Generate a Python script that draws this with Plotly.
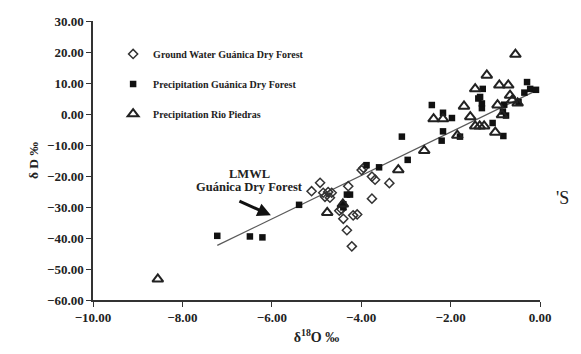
import plotly.graph_objects as go

# Ground Water Guánica Dry Forest (diamonds)
gw_x = [-5.11, -4.92, -4.85, -4.74, -4.66, -4.81, -4.70, -4.29, -4.49, -4.44, -4.40,
        -4.18, -4.09, -4.32, -4.21, -3.99, -3.95, -3.76, -3.69, -3.37, -3.76]
gw_y = [-24.9, -22.2, -25.4, -25.2, -25.4, -26.7, -27.0, -23.3, -31.2, -30.7, -33.8,
        -32.7, -32.4, -37.5, -42.7, -18.1, -17.4, -20.2, -21.2, -22.3, -27.3]

# Precipitation Guánica Dry Forest (filled squares)
pg_x = [-7.22, -6.49, -6.21, -5.39, -4.40, -4.40, -4.32, -4.25, -3.88, -3.60, -3.09,
        -2.96, -2.42, -2.17, -1.97, -2.17, -2.20, -1.79, -1.38, -1.34, -1.30, -1.30,
        -1.28, -1.06, -0.82, -0.83, -0.76, -0.48, -0.29, -0.22, -0.09, -0.35, -0.80]
pg_y = [-39.3, -39.5, -39.8, -29.3, -29.1, -30.1, -26.0, -26.0, -16.5, -17.2, -7.3,
        -14.8, 2.9, 0.4, -1.3, -5.6, -8.6, -7.3, 5.0, 5.5, 1.9, 3.4,
        8.1, -2.9, -7.1, 0.8, -0.5, 3.9, 10.3, 8.1, 7.8, 6.9, 3.0]

# Precipitation Rio Piedras (open triangles)
rp_x = [-8.55, -4.76, -4.41, -3.17, -2.59, -2.38, -2.17, -1.85, -1.70, -1.56, -1.45,
        -1.45, -1.35, -1.25, -1.19, -1.00, -0.95, -0.91, -0.85, -0.71, -0.67, -0.62,
        -0.55, -0.50]
rp_y = [-53.3, -31.8, -29.1, -18.0, -11.8, -1.6, -1.6, -6.9, 2.5, -0.9, 8.1,
        -3.9, -3.9, -3.9, 12.5, -5.9, 2.9, 9.3, -0.3, 9.3, 6.0, 4.5,
        19.2, 3.5]

# LMWL Guánica Dry Forest (drawn line end points)
lmwl_x = [-7.22, -0.12]
lmwl_y = [-42.4, 7.3]

serif = "Liberation Serif, Times New Roman, serif"

fig = go.Figure()
fig.add_trace(go.Scatter(
    x=lmwl_x, y=lmwl_y, mode="lines", showlegend=False,
    line=dict(color="#5a5a5a", width=1.3), hoverinfo="skip"))
fig.add_trace(go.Scatter(
    x=gw_x, y=gw_y, mode="markers", name="Ground Water Guánica Dry Forest",
    legendgroup="a",
    marker=dict(symbol="diamond-open", size=7, color="#333333", line=dict(width=1.5))))
fig.add_trace(go.Scatter(
    x=pg_x, y=pg_y, mode="markers", name="Precipitation Guánica Dry Forest",
    legendgroup="b",
    marker=dict(symbol="square", size=6.5, color="#111111")))
fig.add_trace(go.Scatter(
    x=rp_x, y=rp_y, mode="markers", name="Precipitation Rio Piedras",
    legendgroup="c",
    marker=dict(symbol="triangle-up-open", size=9.5, color="#222222", line=dict(width=2))))

# arrow tip just above the LMWL
arrow_x = -6.02
arrow_y = lmwl_y[0] + (arrow_x - lmwl_x[0]) * (lmwl_y[1] - lmwl_y[0]) / (lmwl_x[1] - lmwl_x[0]) + 1.3

fig.add_annotation(x=arrow_x, y=arrow_y, text="", showarrow=True,
                   ax=-33, ay=-15, arrowhead=2, arrowsize=0.9, arrowwidth=3,
                   arrowcolor="#111111", standoff=0)
fig.add_annotation(x=-6.5, y=-19.2, text="<b>LMWL</b>", showarrow=False,
                   font=dict(family=serif, size=12.5, color="#222222"))
fig.add_annotation(x=-6.5, y=-23.4, text="<b>Guánica Dry Forest</b>", showarrow=False,
                   font=dict(family=serif, size=12.5, color="#222222"))
# stray text at the right edge of the scanned figure
fig.add_annotation(xref="paper", yref="paper", x=1.032, y=0.367, text="'S",
                   showarrow=False, xanchor="left",
                   font=dict(family=serif, size=18, color="#222222"))

axis_common = dict(
    showgrid=False, zeroline=False, showline=True, linecolor="#333333", linewidth=1.5,
    ticks="outside", ticklen=5, tickwidth=1.3, tickcolor="#333333",
    tickformat=".2f", tickfont=dict(family=serif, size=13, color="#222222", weight="bold"),
    ticklabeloverflow="allow",
)

# the page body adds an 8px margin, so the figure is 8px smaller than the window
fig.update_layout(
    width=573, height=346,
    margin=dict(l=85, r=41, t=6, b=54),
    paper_bgcolor="white", plot_bgcolor="white",
    font=dict(family=serif, color="#222222"),
    xaxis=dict(range=[-10, 0], dtick=2,
               title=dict(text="<b>δ<sup>18</sup>O ‰</b>", font=dict(family=serif, size=14),
                          standoff=8),
               **axis_common),
    yaxis=dict(range=[-60, 30], dtick=10,
               title=dict(text="<b>δ D ‰</b>", font=dict(family=serif, size=13.5),
                          standoff=5),
               **axis_common),
    legend=dict(x=0.045, y=0.934, xanchor="left", yanchor="top",
                font=dict(family=serif, size=10, color="#222222", weight="bold"),
                tracegroupgap=11, bgcolor="rgba(0,0,0,0)", itemwidth=30),
    showlegend=True,
)

fig.write_html("out.html")
